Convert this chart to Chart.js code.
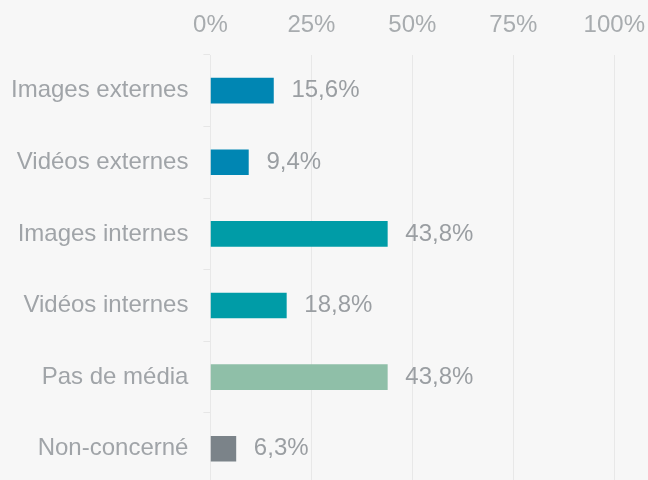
<!DOCTYPE html>
<html>
<head>
<meta charset="utf-8">
<script src="https://cdn.jsdelivr.net/npm/chart.js@4"></script>
<style>
  html, body { margin: 0; padding: 0; background: #f7f7f7; overflow: hidden; }
  #wrap { width: 660px; height: 514px; }
</style>
</head>
<body>
<div id="wrap"><canvas id="chart"></canvas></div>
<script>
const categories = ["Images externes", "Vidéos externes", "Images internes", "Vidéos internes", "Pas de média", "Non-concerné"];
const values = [15.6, 9.4, 43.8, 18.8, 43.8, 6.3];
const barColors = ["#0086b3", "#0086b3", "#009ca7", "#009ca7", "#8fbfa8", "#7b8389"];
const xTicks = [0, 25, 50, 75, 100];

const fontFamily = "'Liberation Sans', Arial, sans-serif";
const fmt = (v) => v.toFixed(1).replace(".", ",") + "%";

// draws the value next to each bar
const valueLabels = {
  id: "valueLabels",
  afterDatasetsDraw(chart) {
    const ctx = chart.ctx;
    const meta = chart.getDatasetMeta(0);
    ctx.save();
    ctx.font = "24px " + fontFamily;
    ctx.fillStyle = "#9a9ea2";
    ctx.textBaseline = "middle";
    meta.data.forEach((bar, i) => {
      ctx.fillText(fmt(values[i]), bar.x + 18, bar.y);
    });
    ctx.restore();
  },
};

new Chart(document.getElementById("chart"), {
  type: "bar",
  data: {
    labels: categories,
    datasets: [{ data: values, backgroundColor: barColors, borderWidth: 0, barThickness: 25 }],
  },
  plugins: [valueLabels],
  options: {
    indexAxis: "y",
    responsive: true,
    maintainAspectRatio: false,
    animation: false,
    layout: { padding: { top: -4, right: 0, bottom: 0, left: -4 } },
    scales: {
      x: {
        position: "top",
        min: 0,
        max: 100,
        afterBuildTicks: (axis) => { axis.ticks = xTicks.map((v) => ({ value: v })); },
        ticks: {
          color: "#a8acaf",
          font: { family: fontFamily, size: 24 },
          padding: 15,
          callback: (v) => v + "%",
        },
        grid: { color: "#e8e8e8", drawTicks: false },
        border: { display: false },
      },
      y: {
        ticks: {
          color: "#a0a4a8",
          font: { family: fontFamily, size: 24 },
          padding: 15,
        },
        grid: { drawOnChartArea: false, drawTicks: true, tickLength: 7, color: "#e6e6e6" },
        border: { display: false },
      },
    },
    plugins: { legend: { display: false }, tooltip: { enabled: false } },
  },
});
</script>
</body>
</html>
